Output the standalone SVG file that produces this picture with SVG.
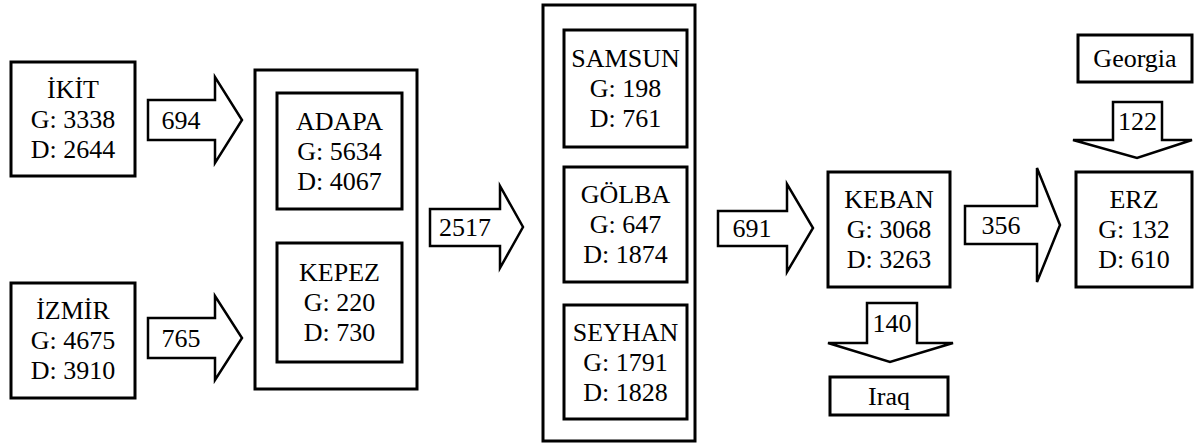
<svg xmlns="http://www.w3.org/2000/svg" width="1195" height="444" viewBox="0 0 1195 444">
<style>
.box{fill:#fff;stroke:#000;stroke-width:3}
.outer{fill:none;stroke:#000;stroke-width:3}
.arr{fill:#fff;stroke:#000;stroke-width:2.5;stroke-linejoin:miter}
text{font-family:'Liberation Serif',Tinos,'Nimbus Roman','DejaVu Serif Condensed',serif;font-size:26px;fill:#000;text-anchor:middle}
</style>
<rect width="1195" height="444" fill="#fff"/>
<g id="ikit">
<rect class="box" x="11" y="62" width="124" height="114"/>
<text x="73" y="98">İKİT</text><text x="73" y="128">G: 3338</text><text x="73" y="158">D: 2644</text>
</g>
<g id="izmir">
<rect class="box" x="11" y="283" width="124" height="115"/>
<text x="73" y="319">İZMİR</text><text x="73" y="349">G: 4675</text><text x="73" y="379">D: 3910</text>
</g>
<g id="group1">
<rect class="outer" x="255" y="70" width="162" height="319"/>
</g>
<g id="adapa">
<rect class="box" x="277" y="93" width="125" height="116"/>
<text x="339.5" y="130">ADAPA</text><text x="339.5" y="160">G: 5634</text><text x="339.5" y="190">D: 4067</text>
</g>
<g id="kepez">
<rect class="box" x="277" y="243" width="125" height="119"/>
<text x="339.5" y="281">KEPEZ</text><text x="339.5" y="311">G: 220</text><text x="339.5" y="341">D: 730</text>
</g>
<g id="group2">
<rect class="outer" x="543" y="5" width="152" height="436"/>
</g>
<g id="samsun">
<rect class="box" x="564" y="30" width="123" height="117"/>
<text x="625.5" y="67">SAMSUN</text><text x="625.5" y="97">G: 198</text><text x="625.5" y="127">D: 761</text>
</g>
<g id="golba">
<rect class="box" x="564" y="167" width="123" height="115"/>
<text x="625.5" y="203">GÖLBA</text><text x="625.5" y="233">G: 647</text><text x="625.5" y="263">D: 1874</text>
</g>
<g id="seyhan">
<rect class="box" x="564" y="305" width="123" height="114"/>
<text x="625.5" y="341">SEYHAN</text><text x="625.5" y="371">G: 1791</text><text x="625.5" y="401">D: 1828</text>
</g>
<g id="keban">
<rect class="box" x="828" y="172" width="122" height="115"/>
<text x="889" y="208">KEBAN</text><text x="889" y="238">G: 3068</text><text x="889" y="268">D: 3263</text>
</g>
<g id="iraq">
<rect class="box" x="830" y="377" width="118" height="38"/>
<text x="889" y="405">Iraq</text>
</g>
<g id="georgia">
<rect class="box" x="1078" y="35" width="114" height="47"/>
<text x="1135" y="67">Georgia</text>
</g>
<g id="erz">
<rect class="box" x="1076" y="172" width="116" height="115"/>
<text x="1134" y="208">ERZ</text><text x="1134" y="238">G: 132</text><text x="1134" y="268">D: 610</text>
</g>
<g id="connectors">
<g id="a694"><polygon class="arr" points="148,100 215,100 215,77 242,120 215,163 215,140 148,140"/><text x="181" y="129">694</text></g>
<g id="a765"><polygon class="arr" points="148,318 215,318 215,296 242,338 215,380 215,358 148,358"/><text x="181" y="347">765</text></g>
<g id="a2517"><polygon class="arr" points="430,209 500,209 500,186 523,227 500,268 500,246 430,246"/><text x="465" y="236">2517</text></g>
<g id="a691"><polygon class="arr" points="718,211 787,211 787,184 813,228 787,272 787,246 718,246"/><text x="752" y="237">691</text></g>
<g id="a356"><polygon class="arr" points="965,206 1037,206 1037,168 1060,225 1037,282 1037,244 965,244"/><text x="1001" y="234">356</text></g>
<g id="a140"><polygon class="arr" points="867,303 917,303 917,343 953,343 890,362 828,343 867,343"/><text x="892" y="332">140</text></g>
<g id="a122"><polygon class="arr" points="1113,102 1162,102 1162,140 1192,140 1137,158 1073,140 1113,140"/><text x="1137.5" y="130">122</text></g>
</g>
</svg>
